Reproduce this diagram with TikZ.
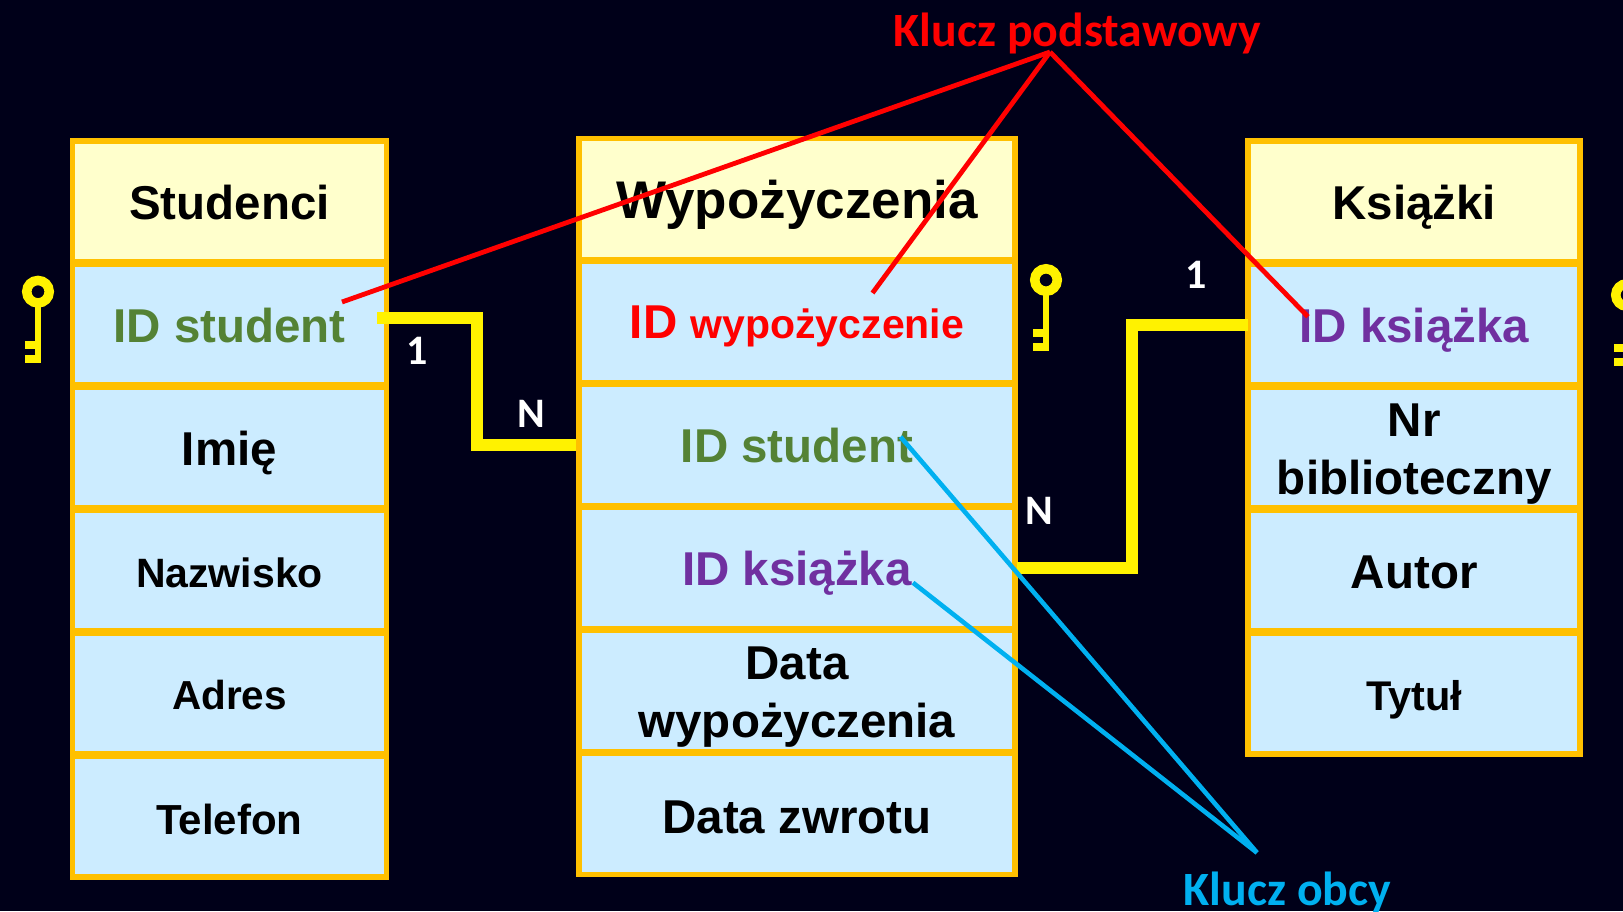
\documentclass[tikz,border=0pt]{standalone}
\usepackage{xcolor}
\usepackage{fontspec}
\usetikzlibrary{positioning}
\setmainfont{Liberation Sans}
\newfontfamily\labelfont{Carlito}

\definecolor{bgdark}{HTML}{000019}
\definecolor{rimgold}{HTML}{FFC000}
\definecolor{headfill}{HTML}{FFFFCC}
\definecolor{cellfill}{HTML}{CCECFF}
\definecolor{idgreen}{HTML}{548235}
\definecolor{idpurple}{HTML}{7030A0}
\definecolor{fkblue}{HTML}{00B0F0}

\newcommand{\fsize}[1]{\fontsize{#1}{58}\selectfont\bfseries}

\tikzset{
  headcell/.style={draw=rimgold, line width=5.5pt, fill=headfill, minimum height=121pt,
    inner sep=0pt, outer sep=0pt, align=center, text=black, font=\fsize{47.5},
    text height=36pt, text depth=0pt},
  datacell/.style={headcell, fill=cellfill},
  smallcell/.style={datacell, text height=34pt},
  tallcell/.style={datacell, text height=93pt},
  pklabel/.style={text=red, font=\labelfont\fontsize{47.8}{50}\selectfont\bfseries},
  fklabel/.style={text=fkblue, font=\labelfont\fontsize{47.8}{50}\selectfont\bfseries},
  cardlabel/.style={text=white, font=\labelfont\fontsize{42}{46}\selectfont\bfseries},
  relline/.style={draw=yellow, line width=12pt},
  pkline/.style={draw=red, line width=4.8pt},
  fkline/.style={draw=fkblue, line width=4.6pt},
  keyicon/.pic={
    \draw[yellow, line width=9.5pt] (0,0) circle (11.25pt);
    \fill[yellow] (-3,15) rectangle (3,71);
    \fill[yellow] (-13,49) rectangle (3,57);
    \fill[yellow] (-13,63) rectangle (3,71);
  }
}

\begin{document}
\begin{tikzpicture}[x=1pt,y=-1pt]
    \useasboundingbox (0,0) rectangle (1623,911);
    \clip (0,0) rectangle (1623,911);
    \fill[bgdark] (0,0) rectangle (1623,911);

    % Studenci
    \node[headcell, minimum width=314pt] (stud) at (229.5,201.5) {Studenci};
    \node[datacell, minimum width=314pt, below=2pt of stud, text=idgreen] (studid) {ID student};
    \node[datacell, minimum width=314pt, below=2pt of studid] (studimie) {Imię};
    \node[smallcell, minimum width=314pt, below=2pt of studimie, font=\fsize{41}, text height=33pt] (studnazw) {Nazwisko};
    \node[smallcell, minimum width=314pt, below=2pt of studnazw, font=\fsize{40.5}, text height=32pt] (studadr) {Adres};
    \node[smallcell, minimum width=314pt, below=2pt of studadr, font=\fsize{42}, text height=36pt] (studtel) {Telefon};

    % Wypozyczenia
    \node[headcell, minimum width=436pt, font=\fsize{53}, text height=38pt] (wyp) at (797,199) {Wypożyczenia};
    \node[datacell, minimum width=436pt, below=2pt of wyp, text=red, text height=32pt] (wypid) {ID {\fsize{41}wypożyczenie}};
    \node[datacell, minimum width=436pt, below=2pt of wypid, text=idgreen, text height=34pt] (wypstud) {ID student};
    \node[datacell, minimum width=436pt, below=2pt of wypstud, text=idpurple, text height=34pt] (wypks) {ID książka};
    \node[tallcell, minimum width=436pt, below=2pt of wypks] (wypdata) {Data\\wypożyczenia};
    \node[datacell, minimum width=436pt, below=2pt of wypdata, text height=38pt] (wypzwrot) {Data zwrotu};

    % Ksiazki
    \node[headcell, minimum width=332pt] (ks) at (1414.2,201.5) {Książki};
    \node[datacell, minimum width=332pt, below=2pt of ks, text=idpurple] (ksid) {ID książka};
    \node[tallcell, minimum width=332pt, below=2pt of ksid] (ksnr) {Nr\\biblioteczny};
    \node[datacell, minimum width=332pt, below=2pt of ksnr, text height=35pt] (ksaut) {Autor};
    \node[smallcell, minimum width=332pt, below=2pt of ksaut, font=\fsize{41.5}] (kstyt) {Tytuł};

    \pic at (38,291.7) {keyicon};
    \pic at (1046,280) {keyicon};
    \pic at (1627,295) {keyicon};

    \coordinate (rela) at (377,317.5);
    \coordinate (relb) at (477,380);
    \coordinate (relc) at (576,445);
    \coordinate (reld) at (1017,568);
    \coordinate (rele) at (1131.7,440);
    \coordinate (relf) at (1248,324.7);
    \draw[relline] (rela) -| (relb) |- (relc);
    \draw[relline] (reld) -| (rele) |- (relf);

    \node[cardlabel] (carda) at (417,351) {1};
    \node[cardlabel] (cardb) at (531,414) {N};
    \node[cardlabel] (cardc) at (1039,511) {N};
    \node[cardlabel] (cardd) at (1196.5,275) {1};

    \node[pklabel] (pk) at (1077.5,33) {Klucz podstawowy};
    \node[fklabel] (fk) at (1287.5,892) {Klucz obcy};

    \coordinate (pkapex) at (1050,52);
    \coordinate (pkstud) at (342,302);
    \coordinate (pkwyp) at (872.5,293);
    \coordinate (pkks) at (1308,316.7);
    \draw[pkline] (pkapex) -- (pkstud);
    \draw[pkline] (pkapex) -- (pkwyp);
    \draw[pkline] (pkapex) -- (pkks);

    \coordinate (fkapex) at (1257,852.7);
    \coordinate (fkstud) at (900.5,436.8);
    \coordinate (fkks) at (913,582.7);
    \draw[fkline] (fkapex) -- (fkstud);
    \draw[fkline] (fkapex) -- (fkks);
\end{tikzpicture}
\end{document}
